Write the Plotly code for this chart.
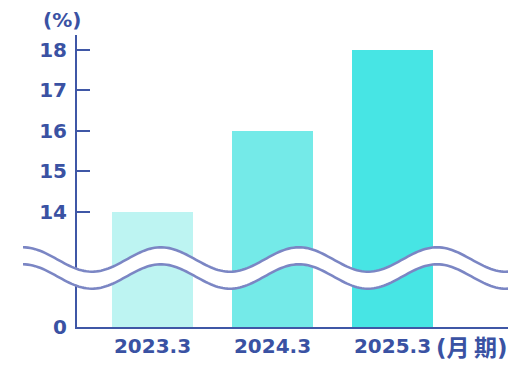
import numpy as np
import plotly.graph_objects as go

categories = ["2023.3", "2024.3", "2025.3"]
values = [14, 16, 18]
bar_colors = ["#bdf4f2", "#74eae8", "#47e5e4"]
tick_values = [0, 14, 15, 16, 17, 18]
tick_labels = ["0", "14", "15", "16", "17", "18"]
unit_label = "(%)"
period_label = "(月\u2009期)"

# axis break: values >= 14 are shifted down so the 0..~11 span is skipped
BREAK_SHIFT = 11.15


def disp(v):
    return v - BREAK_SHIFT if v > 0 else 0


TXT = "#3a52a3"
AXIS = "#3f57a6"
WAVE = "#7b86c4"
FONT = "DejaVu Sans, Noto Sans CJK JP"

# page offset (browser body margin)
OFF = 8
# plot area in screen pixels
L, R, T, B = 77, 508, 35, 327
W, H = 512, 352

fig = go.Figure()
fig.add_trace(go.Bar(
    x=categories,
    y=[disp(v) for v in values],
    marker=dict(color=bar_colors, line=dict(width=0)),
    width=0.667,
    hoverinfo="skip",
))

for c, v in zip(categories, values):
    fig.add_annotation(x=c, y=disp(v), text=f"<b>{v}</b>", showarrow=False,
                       yanchor="bottom", yshift=5,
                       font=dict(family=FONT, size=20, color=TXT))


def px2paper(px, py):
    return (px - L) / (R - L), (B - py) / (B - T)

# wavy break decoration (pixel geometry converted to paper coords)
xs = np.linspace(23, 508, 200)
top = 259.5 - 12.2 * np.cos(2 * np.pi * (xs - 23) / 138)
bot = top + 17


def path_of(xarr, yarr, close=False):
    pts = [px2paper(a, b) for a, b in zip(xarr, yarr)]
    s = "M " + " L ".join(f"{p[0]:.5f},{p[1]:.5f}" for p in pts)
    if close:
        s += " Z"
    return s

fill_path = path_of(np.concatenate([xs, xs[::-1]]), np.concatenate([top, bot[::-1]]), close=True)
fig.add_shape(type="path", path=fill_path, xref="paper", yref="paper",
              fillcolor="white", line=dict(width=0), layer="above")
for yy in (top, bot):
    fig.add_shape(type="path", path=path_of(xs, yy), xref="paper", yref="paper",
                  line=dict(color=WAVE, width=2.6), layer="above")

fig.add_annotation(x=px2paper(62, 0)[0], y=px2paper(0, 20)[1], xref="paper", yref="paper",
                   text=f"<b>{unit_label}</b>", showarrow=False, xanchor="center", yanchor="middle",
                   font=dict(family=FONT, size=20, color=TXT))
fig.add_annotation(x=px2paper(509.5, 0)[0], y=px2paper(0, 348)[1], xref="paper", yref="paper",
                   text=f"<b>{period_label}</b>", showarrow=False, xanchor="right", yanchor="middle",
                   font=dict(family=FONT, size=23, color=TXT))

fig.update_layout(
    width=W, height=H,
    margin=dict(l=L - OFF, r=W - (R - OFF), t=T - OFF, b=H - (B - OFF), pad=0,
                autoexpand=False),
    plot_bgcolor="white", paper_bgcolor="white",
    showlegend=False, bargap=0,
    font=dict(family=FONT, color=TXT),
    xaxis=dict(
        range=[-0.629, 2.9625], showgrid=False, zeroline=False,
        showline=True, linecolor=AXIS, linewidth=2, automargin=False,
        ticks="", tickfont=dict(family=FONT, size=20, color=TXT),
        tickvals=categories, ticktext=[f"<b>{c}</b>" for c in categories],
        fixedrange=True,
    ),
    yaxis=dict(
        range=[0, (B - T) / 40.45], showgrid=False, zeroline=False,
        showline=True, linecolor=AXIS, linewidth=2, automargin=False,
        ticks="inside", ticklen=13, tickwidth=2, tickcolor=AXIS,
        tickvals=[disp(v) for v in tick_values],
        ticktext=[f"<b>{t}</b>" for t in tick_labels],
        tickfont=dict(family=FONT, size=20, color=TXT),
        ticklabelstandoff=4,
        fixedrange=True,
    ),
)

fig.write_html("out.html")
